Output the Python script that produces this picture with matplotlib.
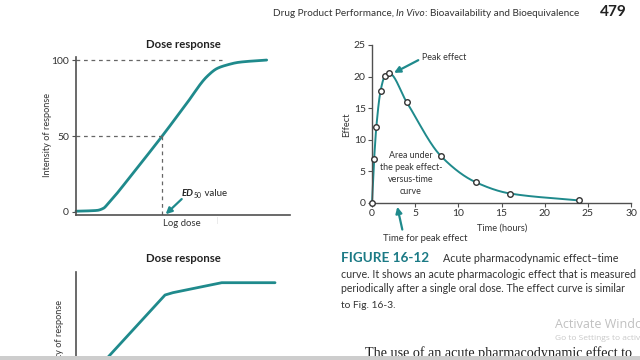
import numpy as np
import matplotlib
matplotlib.use('Agg')
import matplotlib.pyplot as plt
from matplotlib.patches import Rectangle

W, H = 640, 360
plt.rcParams['font.family'] = ['Lato', 'DejaVu Sans']

# ---------------- data ----------------
time_h = [0, 0.25, 0.5, 1, 1.5, 2, 4, 8, 12, 16, 24]
effect = [0, 7, 12, 17.8, 20.1, 20.5, 16, 7.4, 3.3, 1.5, 0.4]
time_ticks = [0, 5, 10, 15, 20, 25, 30]
effect_ticks = [0, 5, 10, 15, 20, 25]

dose_x = [0, 9.7, 12.8, 15, 28, 40.3, 52, 61.1, 66, 70.4, 76, 89.1]
dose_y = [0.5, 1, 2.4, 5.5, 28, 50, 72, 89, 94.5, 96.7, 98.5, 100]
dose_ticks = [0, 50, 100]
ed50_x = 40.3
ed50_y = 50
emax_y = 100
emax_dash_end = 68.2

dose2_x = [8, 15.9, 41.6, 45.3, 68.1, 93]
dose2_y = [38, 50.7, 91.6, 93.2, 100, 100]

TEAL = '#1f8a8c'
SPINE = '#505050'
TXT = '#333333'

fig = plt.figure(figsize=(6.4, 3.6), dpi=100)
fig.patch.set_facecolor('white')
renderer = fig.canvas.get_renderer()


def fx(x):
    return x / W


def fy(y):
    return 1 - y / H


def ax_rect(l, t, r, b):
    return [l / W, 1 - b / H, (r - l) / W, (b - t) / H]


def fit(t, target, axis='w'):
    bb = t.get_window_extent(renderer)
    cur = bb.width if axis == 'w' else bb.height
    t.set_fontsize(t.get_fontsize() * target / cur)
    return t


def runs(x, y, parts, size, color, target=None):
    def place(sz):
        xx = x
        ts = []
        for s, kw in parts:
            kw = dict(kw)
            scale = kw.pop('scale', 1.0)
            dy = kw.pop('dy', 0.0)
            t = fig.text(fx(xx), fy(y + dy * sz), s, fontsize=sz * scale,
                         color=kw.pop('color', color), va='baseline', ha='left', **kw)
            bb = t.get_window_extent(renderer)
            xx = bb.x1
            ts.append(t)
        return ts, xx
    ts, xe = place(size)
    if target is not None:
        w = xe - x
        for t in ts:
            t.remove()
        ts, xe = place(size * target / w)
    return ts


def pchip(x, y, n=600):
    x = np.asarray(x, float)
    y = np.asarray(y, float)
    h = np.diff(x)
    d = np.diff(y) / h
    m = np.zeros_like(y)
    for k in range(1, len(x) - 1):
        if d[k - 1] * d[k] > 0:
            w1 = 2 * h[k] + h[k - 1]
            w2 = h[k] + 2 * h[k - 1]
            m[k] = (w1 + w2) / (w1 / d[k - 1] + w2 / d[k])
    m[0] = d[0]
    m[-1] = d[-1]
    xs = np.linspace(x[0], x[-1], n)
    idx = np.clip(np.searchsorted(x, xs) - 1, 0, len(x) - 2)
    t = (xs - x[idx]) / h[idx]
    h00 = 2 * t**3 - 3 * t**2 + 1
    h10 = t**3 - 2 * t**2 + t
    h01 = -2 * t**3 + 3 * t**2
    h11 = t**3 - t**2
    ys = h00 * y[idx] + h10 * h[idx] * m[idx] + h01 * y[idx + 1] + h11 * h[idx] * m[idx + 1]
    return xs, ys


def style_axes(ax):
    for s in ['top', 'right']:
        ax.spines[s].set_visible(False)
    for s in ['left', 'bottom']:
        ax.spines[s].set_color(SPINE)
        ax.spines[s].set_linewidth(1.2)
    ax.set_facecolor('none')


# ---------------- top-left: dose response ----------------
ax1 = fig.add_axes(ax_rect(76, 57, 290, 215))
style_axes(ax1)
ax1.set_xlim(0, 100)
ax1.set_ylim(-2, 102)
ax1.set_xticks([])
ax1.set_yticks(dose_ticks)
ax1.tick_params(axis='y', length=3, width=0.8, color=SPINE, labelsize=7.5,
                labelcolor=TXT, pad=2)
dxs, dys = pchip(dose_x, dose_y)
ax1.plot(dxs, dys, color=TEAL, lw=2, solid_capstyle='round', clip_on=False)
ax1.plot([0, emax_dash_end], [emax_y, emax_y], color='#666', lw=0.9, dashes=(3, 3))
ax1.plot([0, ed50_x], [ed50_y, ed50_y], color='#666', lw=0.9, dashes=(3, 3))
ax1.plot([ed50_x, ed50_x], [ed50_y, -2], color='#666', lw=0.9, dashes=(3, 3))
ax1.annotate('', xy=(41.9, -1.5), xytext=(49.4, 8.5),
             arrowprops=dict(arrowstyle='-|>', color=TEAL, lw=1.6, mutation_scale=9,
                             shrinkA=0, shrinkB=0), annotation_clip=False)

t = fig.text(fx(183), fy(45), 'Dose response', ha='center', va='center',
             fontweight='bold', color='#222', fontsize=8)
fit(t, 75)
t = fig.text(fx(48), fy(135), 'Intensity of response', rotation=90, ha='center',
             va='center', color=TXT, fontsize=8)
fit(t, 85, 'h')
ylab_size = t.get_fontsize()
t = fig.text(fx(182), fy(224), 'Log dose', ha='center', va='center', color=TXT, fontsize=8)
fit(t, 38)
fig.text(fx(217), fy(222), 'I', ha='center', va='center', color='#666', fontsize=7,
         fontweight='light')
runs(182, 196, [('ED', dict(fontweight='bold', style='italic')),
                ('50', dict(scale=0.7, dy=0.35)),
                (' value', {})], 8, '#222', target=45)

# ---------------- bottom-left: dose response ----------------
ax3 = fig.add_axes(ax_rect(76, 272, 290, 420))
style_axes(ax3)
ax3.spines['bottom'].set_visible(False)
ax3.set_xlim(0, 100)
ax3.set_ylim(6.3, 107.3)
ax3.set_xticks([])
ax3.set_yticks([])
ax3.plot(dose2_x, dose2_y, color=TEAL, lw=2, solid_capstyle='round')
t = fig.text(fx(183), fy(258), 'Dose response', ha='center', va='center',
             fontweight='bold', color='#222', fontsize=8)
fit(t, 75)
fig.text(fx(60), fy(341.5), 'Intensity of response', rotation=90, ha='center',
         va='center', color=TXT, fontsize=ylab_size)

# ---------------- right: effect-time ----------------
ax2 = fig.add_axes(ax_rect(372, 45, 631, 203))
style_axes(ax2)
ax2.spines['left'].set_linewidth(1.0)
ax2.spines['bottom'].set_linewidth(1.0)
ax2.set_xlim(0, 30)
ax2.set_ylim(0, 25)
ax2.set_xticks(time_ticks)
ax2.set_yticks(effect_ticks)
ax2.tick_params(length=3, width=0.8, color=SPINE, labelsize=7.5, labelcolor=TXT, pad=1.5)
xs, ys = pchip(time_h, effect)
ax2.plot(xs, ys, color=TEAL, lw=1.4, clip_on=False)
ax2.plot(time_h, effect, 'o', ms=4, mfc='white', mec='#333', mew=1, clip_on=False, zorder=5)

t = fig.text(fx(502), fy(228), 'Time (hours)', ha='center', va='center',
             color=TXT, fontsize=7.5)
fit(t, 50)
small = t.get_fontsize()
fig.text(fx(346.7), fy(125), 'Effect', rotation=90, ha='center', va='center',
         color=TXT, fontsize=small)

ax2.annotate('', xy=(2.55, 20.6), xytext=(5.36, 22.6),
             arrowprops=dict(arrowstyle='-|>', color=TEAL, lw=1.6, mutation_scale=9,
                             shrinkA=0, shrinkB=0))
t = fig.text(fx(421.7), fy(57.3), 'Peak effect', fontsize=7.5, color=TXT, va='center',
             ha='left')
fit(t, 44)
ax2.annotate('', xy=(2.93, -0.6), xytext=(3.51, -4.2),
             arrowprops=dict(arrowstyle='-|>', color=TEAL, lw=1.6, mutation_scale=9,
                             shrinkA=0, shrinkB=0), annotation_clip=False)
t = fig.text(fx(425), fy(238.5), 'Time for peak effect', ha='center', va='center',
             fontsize=7.5, color=TXT)
fit(t, 84)

area_lines = ['Area under', 'the peak effect-', 'versus-time', 'curve']
area_y = [155, 168, 180, 192]
probe = fig.text(0, 0, area_lines[1], fontsize=7.5)
fit(probe, 62)
area_size = probe.get_fontsize()
probe.remove()
for yy, s in zip(area_y, area_lines):
    fig.text(fx(411), fy(yy), s, ha='center', va='center', fontsize=area_size, color=TXT)

# ---------------- page text ----------------
runs(273, 15.5, [('Drug Product Performance, ', {}), ('In Vivo', dict(style='italic')),
                 (': Bioavailability and Bioequivalence', {})], 8, TXT, target=307)
runs(600, 15.5, [('479', dict(fontweight='bold'))], 8, '#222', target=27)

runs(341, 262.5, [('FIGURE 16-12', dict(fontweight='bold', color='#1b7a85'))], 10, TXT,
     target=88)
runs(443, 262.5, [('Acute pharmacodynamic effect\u2013time', {})], 8, TXT, target=175)
runs(341, 277.5, [('curve. It shows an acute pharmacologic effect that is measured', {})],
     8, TXT, target=294)
runs(341, 292.5, [('periodically after a single oral dose. The effect curve is similar', {})],
     8, TXT, target=286)
runs(341, 307.5, [('to Fig. 16-3.', {})], 8, TXT, target=55)

fig.text(fx(555), fy(325), 'Activate Windows', ha='left', va='center', fontsize=9,
         color='#c0c0c0', family=['Open Sans', 'DejaVu Sans'])
fig.text(fx(555), fy(339), 'Go to Settings to activate Windows.', ha='left', va='center',
         fontsize=6, color='#c8c8c8', family=['Open Sans', 'DejaVu Sans'])
runs(365, 357, [('The use of an acute pharmacodynamic effect to', dict(
    family=['Liberation Serif', 'DejaVu Serif']))], 10, '#222', target=268)

fig.add_artist(Rectangle((0, 0), 1, 4.5 / H, transform=fig.transFigure,
                         facecolor='#cdcdcd', edgecolor='none', zorder=20))

fig.savefig('out.png', dpi=100)
